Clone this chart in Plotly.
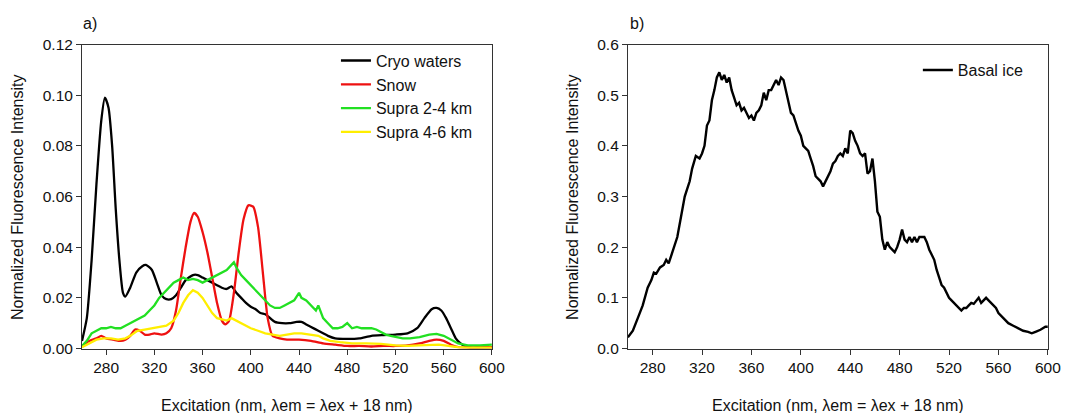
import plotly.graph_objects as go

# ---------------- Data ----------------
cryo_x = [260, 264, 268, 272, 276, 279, 282, 285, 288, 291, 294, 296, 300, 305, 310, 313, 318, 322, 326,
          330, 334, 338, 342, 346, 352, 356, 360, 364, 368, 372, 376, 380, 384, 388, 392, 396, 400, 404,
          408, 412, 416, 420, 426, 432, 438, 442, 446, 450, 456, 460, 464, 470, 480, 490, 500, 510, 520,
          530, 538, 544, 550, 554, 558, 562, 566, 570, 574, 578, 582, 590, 600]
cryo_y = [0.003, 0.012, 0.035, 0.065, 0.090, 0.099, 0.095, 0.080, 0.055, 0.035, 0.022, 0.0205, 0.024,
          0.030, 0.0325, 0.033, 0.031, 0.026, 0.021, 0.0195, 0.0195, 0.021, 0.024, 0.027, 0.029, 0.029,
          0.028, 0.027, 0.026, 0.025, 0.024, 0.0235, 0.0245, 0.022, 0.020, 0.018, 0.0165, 0.0155, 0.014,
          0.0135, 0.012, 0.0105, 0.010, 0.010, 0.0105, 0.0105, 0.0095, 0.0085, 0.007, 0.006, 0.005, 0.004,
          0.0038, 0.004, 0.005, 0.0053, 0.0055, 0.006, 0.008, 0.012, 0.0155, 0.016, 0.015, 0.012, 0.008,
          0.004, 0.002, 0.0008, 0.0005, 0.0005, 0.0005]

snow_x = [260, 266, 272, 276, 280, 286, 292, 296, 300, 304, 308, 312, 316, 320, 326, 330, 334, 338, 342,
          346, 350, 353, 356, 360, 364, 368, 372, 376, 379, 382, 386, 390, 394, 398, 402, 406, 410, 414,
          418, 424, 430, 440, 450, 460, 470, 480, 490, 500, 510, 520, 530, 540, 548, 554, 560, 566, 572,
          580, 600]
snow_y = [0.001, 0.003, 0.004, 0.005, 0.004, 0.0035, 0.003, 0.0035, 0.005, 0.0075, 0.007, 0.0055, 0.0055,
          0.006, 0.0055, 0.006, 0.008, 0.015, 0.028, 0.040, 0.050, 0.0535, 0.052, 0.046, 0.038, 0.028,
          0.018, 0.011, 0.0095, 0.011, 0.022, 0.038, 0.051, 0.0565, 0.056, 0.048, 0.030, 0.012, 0.005,
          0.004, 0.0035, 0.0035, 0.003, 0.002, 0.0015, 0.001, 0.001, 0.0008, 0.001, 0.001, 0.0012, 0.002,
          0.003, 0.0035, 0.003, 0.0015, 0.0005, 0.0003, 0.0005]

supra24_x = [260, 264, 268, 272, 276, 280, 284, 288, 292, 296, 300, 304, 308, 312, 316, 320, 324, 328,
             332, 336, 340, 344, 348, 352, 356, 360, 364, 368, 372, 376, 380, 384, 386, 388, 392, 396,
             400, 404, 408, 412, 416, 420, 424, 428, 432, 436, 440, 442, 446, 450, 454, 456, 460, 464,
             468, 472, 476, 480, 484, 488, 492, 496, 500, 504, 508, 512, 516, 520, 526, 532, 540, 548,
             554, 560, 566, 572, 580, 590, 600]
supra24_y = [0.001, 0.003, 0.006, 0.007, 0.008, 0.008, 0.0085, 0.008, 0.008, 0.009, 0.010, 0.011, 0.012,
             0.013, 0.015, 0.017, 0.020, 0.022, 0.024, 0.026, 0.027, 0.028, 0.027, 0.0275, 0.027, 0.026,
             0.027, 0.028, 0.029, 0.030, 0.031, 0.033, 0.034, 0.032, 0.029, 0.027, 0.025, 0.023, 0.021,
             0.019, 0.017, 0.016, 0.016, 0.017, 0.018, 0.019, 0.022, 0.020, 0.019, 0.017, 0.015, 0.017,
             0.012, 0.010, 0.008, 0.008, 0.0085, 0.010, 0.008, 0.0085, 0.008, 0.008, 0.008, 0.0075, 0.0065,
             0.0055, 0.005, 0.0045, 0.004, 0.004, 0.0045, 0.0055, 0.0058, 0.005, 0.0035, 0.002, 0.0012,
             0.0012, 0.0015]

supra46_x = [260, 266, 272, 278, 284, 290, 296, 300, 306, 312, 318, 324, 330, 336, 340, 344, 348, 352,
             356, 360, 364, 368, 372, 376, 380, 384, 388, 392, 396, 400, 406, 412, 418, 424, 430, 436,
             442, 450, 456, 460, 466, 474, 484, 496, 508, 520, 530, 540, 550, 556, 564, 572, 580, 600]
supra46_y = [0.0005, 0.002, 0.0035, 0.004, 0.004, 0.0035, 0.004, 0.005, 0.007, 0.0075, 0.008, 0.0085,
             0.009, 0.011, 0.014, 0.018, 0.021, 0.023, 0.022, 0.020, 0.017, 0.014, 0.012, 0.0115, 0.011,
             0.012, 0.011, 0.010, 0.009, 0.008, 0.007, 0.006, 0.0055, 0.005, 0.0055, 0.006, 0.006, 0.0055,
             0.005, 0.004, 0.003, 0.0025, 0.002, 0.002, 0.0018, 0.0012, 0.001, 0.0012, 0.0015, 0.0015,
             0.001, 0.0005, 0.0003, 0.0003]

basal_x = [260, 264, 268, 272, 276, 279, 281, 283, 286, 289, 291, 293, 296, 300, 303, 306, 308, 310, 312,
           314, 315, 318, 320, 322, 324, 326, 328, 330, 332, 334, 336, 338, 340, 342, 344, 346, 348, 350,
           352, 354, 356, 358, 360, 362, 364, 366, 368, 370, 372, 374, 376, 378, 380, 382, 384, 386, 388,
           390, 392, 394, 396, 398, 400, 402, 404, 406, 408, 410, 412, 414, 416, 418, 420, 422, 424, 426,
           428, 430, 432, 434, 436, 438, 440, 442, 444, 446, 448, 450, 452, 454, 456, 458, 460, 462, 464,
           466, 468, 470, 472, 474, 476, 478, 480, 482, 484, 486, 488, 490, 492, 494, 496, 498, 500, 502,
           504, 506, 508, 510, 512, 514, 516, 518, 520, 522, 524, 526, 528, 530, 532, 534, 536, 538, 540,
           542, 544, 546, 548, 550, 552, 554, 556, 558, 560, 564, 568, 572, 576, 580, 584, 587, 590, 594,
           598, 600]
basal_y = [0.022, 0.035, 0.060, 0.085, 0.120, 0.135, 0.150, 0.148, 0.160, 0.165, 0.175, 0.168, 0.190,
           0.220, 0.260, 0.300, 0.315, 0.330, 0.355, 0.370, 0.380, 0.375, 0.385, 0.400, 0.440, 0.450,
           0.490, 0.510, 0.535, 0.545, 0.530, 0.540, 0.525, 0.535, 0.510, 0.495, 0.480, 0.485, 0.470,
           0.475, 0.465, 0.455, 0.460, 0.450, 0.465, 0.470, 0.480, 0.505, 0.490, 0.510, 0.510, 0.520,
           0.530, 0.520, 0.535, 0.530, 0.510, 0.490, 0.465, 0.460, 0.445, 0.430, 0.420, 0.400, 0.395,
           0.390, 0.375, 0.360, 0.340, 0.335, 0.330, 0.320, 0.330, 0.340, 0.350, 0.365, 0.370, 0.380,
           0.385, 0.380, 0.395, 0.385, 0.430, 0.425, 0.410, 0.400, 0.385, 0.380, 0.385, 0.345, 0.350,
           0.375, 0.330, 0.270, 0.260, 0.215, 0.195, 0.210, 0.200, 0.195, 0.190, 0.200, 0.215, 0.235,
           0.215, 0.210, 0.220, 0.210, 0.220, 0.210, 0.220, 0.220, 0.220, 0.210, 0.195, 0.185, 0.175,
           0.155, 0.140, 0.125, 0.120, 0.110, 0.100, 0.095, 0.090, 0.085, 0.080, 0.075, 0.080, 0.080,
           0.085, 0.090, 0.088, 0.095, 0.100, 0.090, 0.095, 0.100, 0.095, 0.090, 0.085, 0.080, 0.070,
           0.060, 0.050, 0.045, 0.040, 0.035, 0.033, 0.030, 0.033, 0.037, 0.043, 0.043]

x_ticks = [280, 320, 360, 400, 440, 480, 520, 560, 600]
ya_ticks = [0.00, 0.02, 0.04, 0.06, 0.08, 0.10, 0.12]
yb_ticks = [0.0, 0.1, 0.2, 0.3, 0.4, 0.5, 0.6]

FONT = "Liberation Sans, Arial, sans-serif"
W, H = 1070, 413


# The captured page appears slightly scaled/offset; convert target screen pixels to layout paper coords.
def px(x_screen):
    return ((x_screen - 9.0) / 0.988) / W


def py(y_screen):
    return 1 - ((y_screen - 15.4) / 0.962) / H


fig = go.Figure()
fig.add_trace(go.Scatter(x=cryo_x, y=cryo_y, mode="lines", name="Cryo waters",
                         line=dict(color="#000000", width=2.3, shape="spline", smoothing=0.6),
                         xaxis="x", yaxis="y", legend="legend"))
fig.add_trace(go.Scatter(x=snow_x, y=snow_y, mode="lines", name="Snow",
                         line=dict(color="#ee1111", width=2.3, shape="spline", smoothing=0.6),
                         xaxis="x", yaxis="y", legend="legend"))
fig.add_trace(go.Scatter(x=supra24_x, y=supra24_y, mode="lines", name="Supra 2-4 km",
                         line=dict(color="#22e022", width=2.3),
                         xaxis="x", yaxis="y", legend="legend"))
fig.add_trace(go.Scatter(x=supra46_x, y=supra46_y, mode="lines", name="Supra 4-6 km",
                         line=dict(color="#ffee00", width=2.3),
                         xaxis="x", yaxis="y", legend="legend"))
fig.add_trace(go.Scatter(x=basal_x, y=basal_y, mode="lines", name="Basal ice",
                         line=dict(color="#000000", width=2.4),
                         xaxis="x2", yaxis="y2", legend="legend2"))

axis_common = dict(showline=True, linecolor="#333333", linewidth=1, mirror=True,
                   ticks="outside", ticklen=5, tickcolor="#333333", showgrid=False, zeroline=False,
                   tickfont=dict(family=FONT, size=15.5, color="#111111"))

ydom = [py(348), py(43)]
fig.update_layout(
    width=W, height=H,
    margin=dict(l=0, r=0, t=0, b=0),
    paper_bgcolor="white", plot_bgcolor="white",
    font=dict(family=FONT, size=16, color="#111111"),
    xaxis=dict(domain=[px(83), px(493)], range=[260, 600], tickvals=x_ticks, anchor="y", **axis_common),
    yaxis=dict(domain=ydom, range=[0, 0.12], tickvals=ya_ticks, tickformat=".2f",
               anchor="x", **axis_common),
    xaxis2=dict(domain=[px(629), px(1049)], range=[260, 600], tickvals=x_ticks, anchor="y2", **axis_common),
    yaxis2=dict(domain=ydom, range=[0, 0.6], tickvals=yb_ticks, tickformat=".1f",
                anchor="x2", **axis_common),
    legend=dict(x=px(337), y=py(62) + 20.7 / H, xanchor="left", yanchor="top", bgcolor="rgba(0,0,0,0)",
                font=dict(family=FONT, size=16, color="#111111"), tracegroupgap=0),
    legend2=dict(x=px(919), y=py(70) + 19.1 / H, xanchor="left", yanchor="top", bgcolor="rgba(0,0,0,0)",
                 font=dict(family=FONT, size=16, color="#111111")),
    showlegend=True,
)

ann = [
    dict(text="a)", x=82, y=22, xanchor="left"),
    dict(text="b)", x=629, y=22, xanchor="left"),
    dict(text="Excitation (nm, \u03bbem = \u03bbex + 18 nm)", x=288, y=405, xanchor="center"),
    dict(text="Excitation (nm, \u03bbem = \u03bbex + 18 nm)", x=839, y=405, xanchor="center"),
]
for a in ann:
    fig.add_annotation(text=a["text"], x=px(a["x"]), y=py(a["y"]), xref="paper", yref="paper",
                       xanchor=a["xanchor"], yanchor="middle", showarrow=False,
                       font=dict(family=FONT, size=16, color="#111111"))
for xc in (18, 573):
    fig.add_annotation(text="Normalized Fluorescence Intensity", x=px(xc), y=py(196),
                       xref="paper", yref="paper", textangle=-90, xanchor="center", yanchor="middle",
                       showarrow=False, font=dict(family=FONT, size=16, color="#111111"))

fig.write_html("out.html")
